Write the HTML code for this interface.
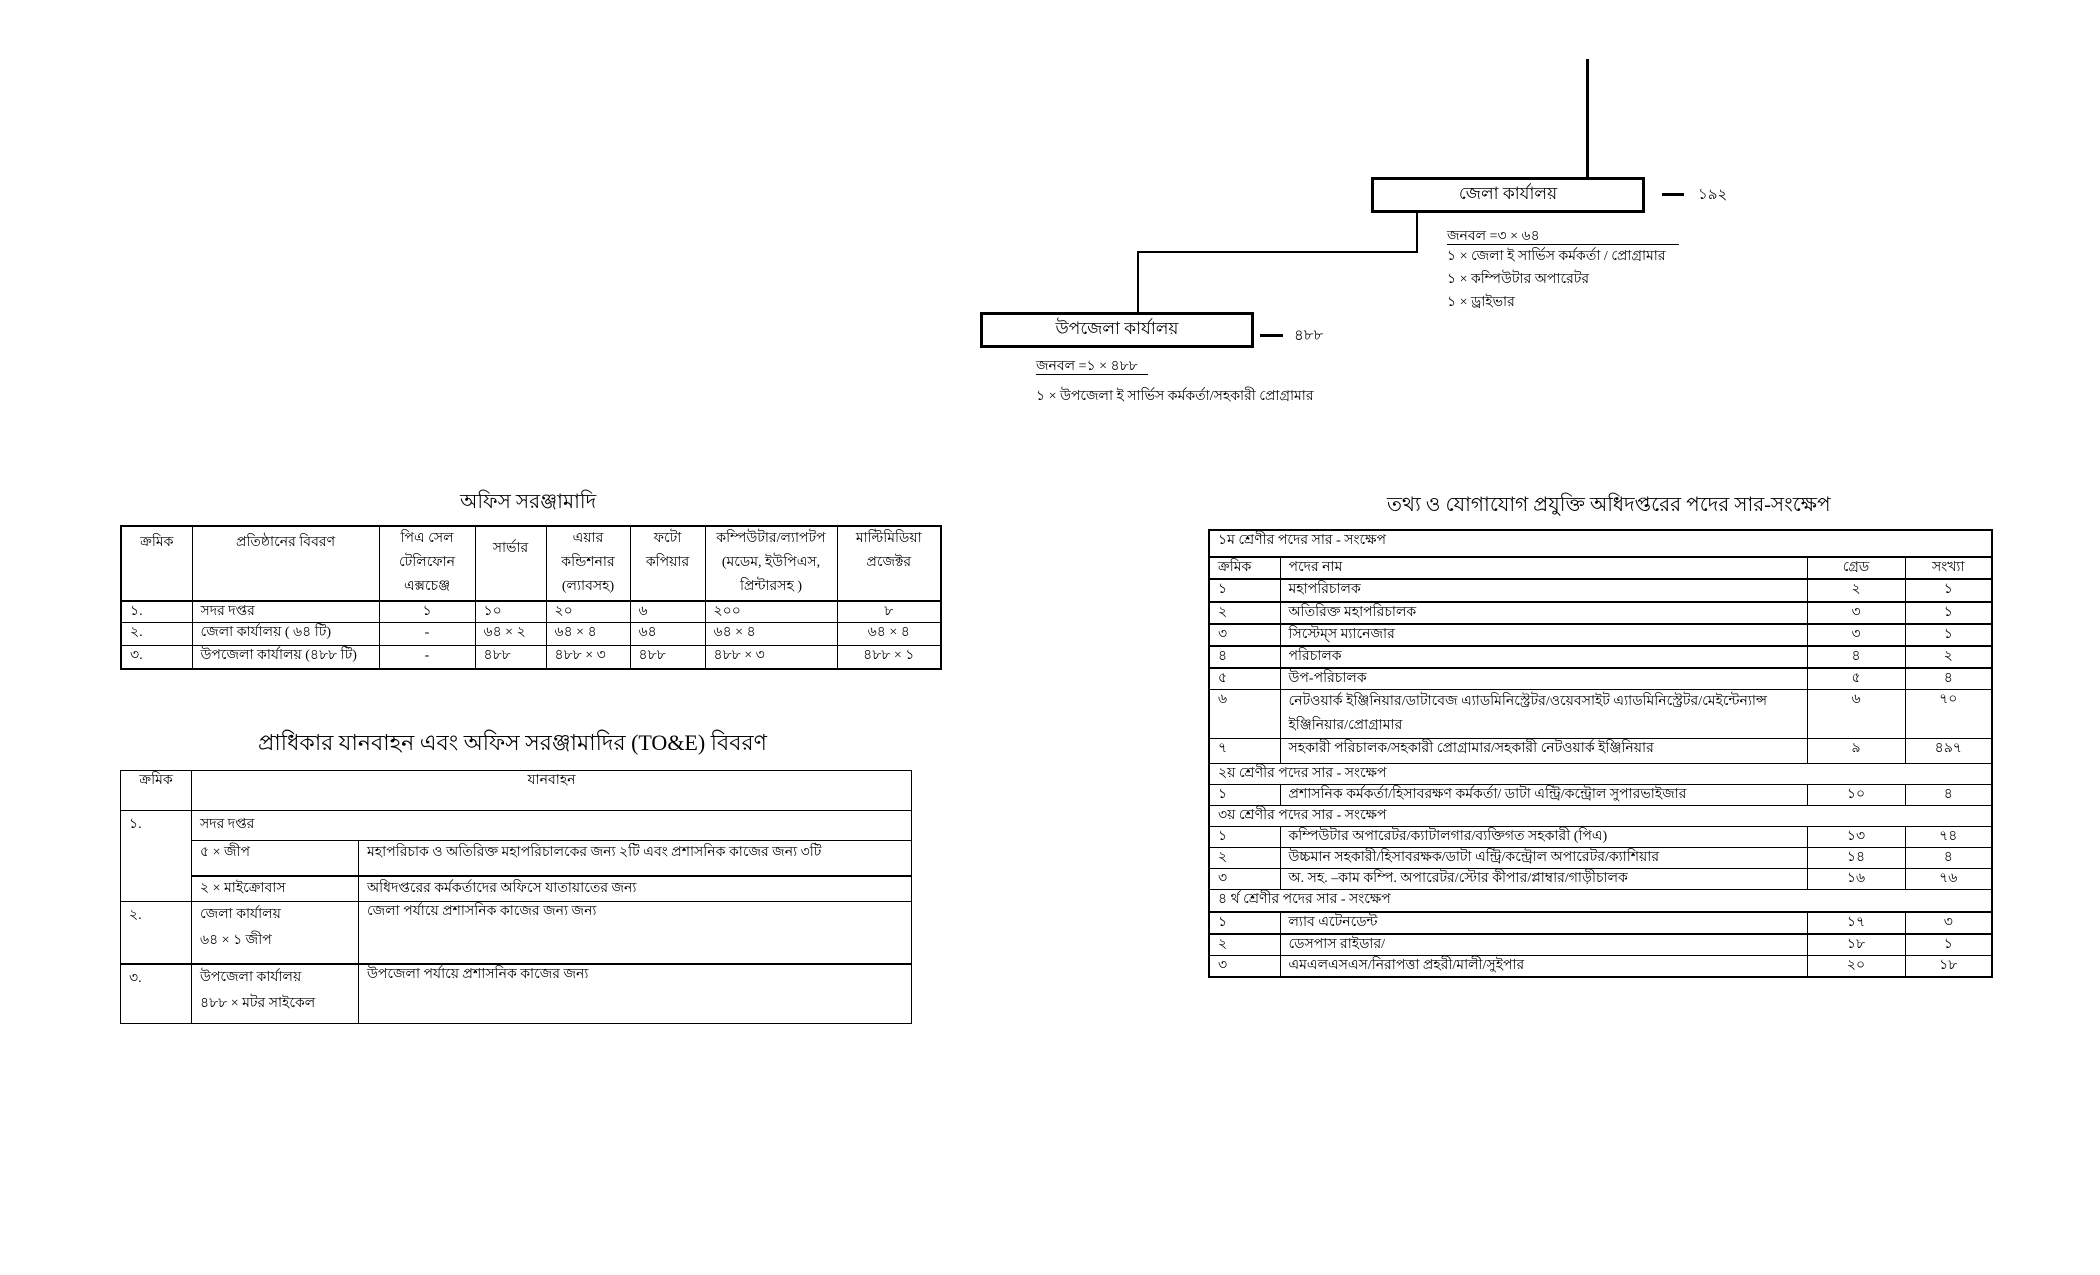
<!DOCTYPE html>
<html><head><meta charset="utf-8">
<style>
body{margin:0;width:2100px;height:1275px;background:#fff;position:relative;overflow:hidden;font-family:"Liberation Serif","Noto Sans CJK SC",serif;color:#000}
.a{position:absolute;white-space:nowrap}
.l{position:absolute;background:#000}
.box{position:absolute;border:3px solid #000;box-sizing:border-box;display:flex;align-items:center;justify-content:center;font-size:17px}
table{position:absolute;border-collapse:collapse;font-size:14px;table-layout:fixed}
td{border:1px solid #000;padding:0 8px;vertical-align:top;line-height:20px;overflow:hidden;white-space:nowrap}
.c{text-align:center}
.t{font-size:20px}
</style></head><body>
<!-- org chart -->
<div class="l" style="left:1586px;top:59px;width:3px;height:118px"></div>
<div class="box" style="left:1371px;top:177px;width:274px;height:36px">জেলা কার্যালয়</div>
<div class="l" style="left:1662px;top:193px;width:22px;height:3px"></div>
<div class="a" style="left:1698px;top:183px;font-size:15px">১৯২</div>
<div class="l" style="left:1416px;top:212px;width:2px;height:41px"></div>
<div class="l" style="left:1137px;top:251px;width:281px;height:2px"></div>
<div class="l" style="left:1137px;top:251px;width:2px;height:61px"></div>
<div class="box" style="left:980px;top:312px;width:274px;height:36px">উপজেলা কার্যালয়</div>
<div class="l" style="left:1260px;top:334px;width:23px;height:3px"></div>
<div class="a" style="left:1294px;top:324px;font-size:15px">৪৮৮</div>
<div class="a" style="left:1447px;top:224px;font-size:14px">জনবল =৩ × ৬৪</div>
<div class="l" style="left:1447px;top:244px;width:232px;height:1px"></div>
<div class="a" style="left:1447px;top:244px;font-size:14px">১ × জেলা ই সার্ভিস কর্মকর্তা / প্রোগ্রামার</div>
<div class="a" style="left:1447px;top:267px;font-size:14px">১ × কম্পিউটার অপারেটর</div>
<div class="a" style="left:1447px;top:290px;font-size:14px">১ × ড্রাইভার</div>
<div class="a" style="left:1036px;top:354px;font-size:14px">জনবল =১ × ৪৮৮</div>
<div class="l" style="left:1036px;top:374px;width:112px;height:1px"></div>
<div class="a" style="left:1036px;top:384px;font-size:14px">১ × উপজেলা ই সার্ভিস কর্মকর্তা/সহকারী প্রোগ্রামার</div>

<!-- table 1 -->
<div class="a t" style="left:460px;top:487px">অফিস সরঞ্জামাদি</div>
<table style="left:120px;top:525px;width:820px;border:2px solid #000">
<colgroup><col style="width:71px"><col style="width:187px"><col style="width:96px"><col style="width:71px"><col style="width:84px"><col style="width:75px"><col style="width:132px"><col style="width:104px"></colgroup>
<tr style="height:75px;border-bottom:2px solid #000"><td class="c" style="padding-top:6px">ক্রমিক</td><td class="c" style="padding-top:6px">প্রতিষ্ঠানের বিবরণ</td><td class="c" style="line-height:24px">পিএ সেল<br>টেলিফোন<br>এক্সচেঞ্জ</td><td class="c" style="padding-top:12px">সার্ভার</td><td class="c" style="line-height:24px">এয়ার<br>কন্ডিশনার<br>(ল্যাবসহ)</td><td class="c" style="line-height:24px">ফটো<br>কপিয়ার</td><td class="c" style="line-height:24px">কম্পিউটার/ল্যাপটপ<br>(মডেম, ইউপিএস,<br>প্রিন্টারসহ )</td><td class="c" style="line-height:24px">মাল্টিমিডিয়া<br>প্রজেক্টর</td></tr>
<tr style="height:21px"><td>১.</td><td>সদর দপ্তর</td><td class="c">১</td><td>১০</td><td>২০</td><td>৬</td><td>২০০</td><td class="c">৮</td></tr>
<tr style="height:23px"><td>২.</td><td>জেলা কার্যালয় ( ৬৪ টি)</td><td class="c">-</td><td>৬৪ × ২</td><td>৬৪ × ৪</td><td>৬৪</td><td>৬৪ × ৪</td><td class="c">৬৪ × ৪</td></tr>
<tr style="height:23px"><td>৩.</td><td>উপজেলা কার্যালয় (৪৮৮ টি)</td><td class="c">-</td><td>৪৮৮</td><td>৪৮৮ × ৩</td><td>৪৮৮</td><td>৪৮৮ × ৩</td><td class="c">৪৮৮ × ১</td></tr>
</table>

<!-- table 2 -->
<div class="a" style="left:258px;top:726px;font-size:22px">প্রাধিকার যানবাহন এবং অফিস সরঞ্জামাদির (TO&amp;E) বিবরণ</div>
<table style="left:120px;top:770px;width:791px;border:1.5px solid #000">
<colgroup><col style="width:71px"><col style="width:167px"><col style="width:553px"></colgroup>
<tr style="height:40px"><td class="c">ক্রমিক</td><td colspan="2" class="c">যানবাহন</td></tr>
<tr style="height:30px"><td rowspan="3" style="padding-top:4px">১.</td><td colspan="2" style="padding-top:4px">সদর দপ্তর</td></tr>
<tr style="height:35px;border-bottom:2px solid #000"><td style="padding-top:2px">৫ × জীপ</td><td style="padding-top:2px">মহাপরিচাক ও অতিরিক্ত মহাপরিচালকের জন্য ২টি এবং প্রশাসনিক কাজের জন্য ৩টি</td></tr>
<tr style="height:26px"><td style="padding-top:2px">২ × মাইক্রোবাস</td><td style="padding-top:2px">অধিদপ্তরের কর্মকর্তাদের অফিসে যাতায়াতের জন্য</td></tr>
<tr style="height:62px;border-bottom:2px solid #000"><td style="padding-top:4px">২.</td><td style="line-height:26px">জেলা কার্যালয়<br>৬৪ × ১ জীপ</td><td>জেলা পর্যায়ে প্রশাসনিক কাজের জন্য জন্য</td></tr>
<tr style="height:60px"><td style="padding-top:4px">৩.</td><td style="line-height:26px">উপজেলা কার্যালয়<br>৪৮৮ × মটর সাইকেল</td><td>উপজেলা পর্যায়ে প্রশাসনিক কাজের জন্য</td></tr>
</table>

<!-- table 3 -->
<div class="a t" style="left:1387px;top:490px">তথ্য ও যোগাযোগ প্রযুক্তি অধিদপ্তরের পদের সার-সংক্ষেপ</div>
<table style="left:1208px;top:529px;width:783px;border:2px solid #000">
<colgroup><col style="width:71px"><col style="width:527px"><col style="width:98px"><col style="width:87px"></colgroup>
<tr style="height:27px;border-bottom:2px solid #000"><td colspan="4">১ম শ্রেণীর পদের সার - সংক্ষেপ</td></tr>
<tr style="height:21px;border-bottom:2px solid #000"><td>ক্রমিক</td><td>পদের নাম</td><td class="c">গ্রেড</td><td class="c">সংখ্যা</td></tr>
<tr style="height:23px;border-bottom:2px solid #000"><td>১</td><td>মহাপরিচালক</td><td class="c">২</td><td class="c">১</td></tr>
<tr style="height:21px;border-bottom:2px solid #000"><td>২</td><td>অতিরিক্ত মহাপরিচালক</td><td class="c">৩</td><td class="c">১</td></tr>
<tr style="height:21px;border-bottom:2px solid #000"><td>৩</td><td>সিস্টেম্‌স ম্যানেজার</td><td class="c">৩</td><td class="c">১</td></tr>
<tr style="height:21px;border-bottom:2px solid #000"><td>৪</td><td>পরিচালক</td><td class="c">৪</td><td class="c">২</td></tr>
<tr style="height:21px"><td>৫</td><td>উপ-পরিচালক</td><td class="c">৫</td><td class="c">৪</td></tr>
<tr style="height:48px"><td>৬</td><td style="line-height:24px">নেটওয়ার্ক ইঞ্জিনিয়ার/ডাটাবেজ এ্যাডমিনিস্ট্রেটর/ওয়েবসাইট এ্যাডমিনিস্ট্রেটর/মেইন্টেন্যান্স<br>ইঞ্জিনিয়ার/প্রোগ্রামার</td><td class="c">৬</td><td class="c">৭০</td></tr>
<tr style="height:25px"><td>৭</td><td>সহকারী পরিচালক/সহকারী প্রোগ্রামার/সহকারী নেটওয়ার্ক ইঞ্জিনিয়ার</td><td class="c">৯</td><td class="c">৪৯৭</td></tr>
<tr style="height:21px"><td colspan="4">২য় শ্রেণীর পদের সার - সংক্ষেপ</td></tr>
<tr style="height:21px"><td>১</td><td>প্রশাসনিক কর্মকর্তা/হিসাবরক্ষণ কর্মকর্তা/ ডাটা এন্ট্রি/কন্ট্রোল সুপারভাইজার</td><td class="c">১০</td><td class="c">৪</td></tr>
<tr style="height:21px"><td colspan="4">৩য় শ্রেণীর পদের সার - সংক্ষেপ</td></tr>
<tr style="height:21px"><td>১</td><td>কম্পিউটার অপারেটর/ক্যাটালগার/ব্যক্তিগত সহকারী (পিএ)</td><td class="c">১৩</td><td class="c">৭৪</td></tr>
<tr style="height:21px"><td>২</td><td>উচ্চমান সহকারী/হিসাবরক্ষক/ডাটা এন্ট্রি/কন্ট্রোল অপারেটর/ক্যাশিয়ার</td><td class="c">১৪</td><td class="c">৪</td></tr>
<tr style="height:21px"><td>৩</td><td>অ. সহ. –কাম কম্পি. অপারেটর/স্টোর কীপার/প্লাম্বার/গাড়ীচালক</td><td class="c">১৬</td><td class="c">৭৬</td></tr>
<tr style="height:22px;border-bottom:2px solid #000"><td colspan="4">৪ র্থ শ্রেণীর পদের সার - সংক্ষেপ</td></tr>
<tr style="height:21px;border-bottom:2px solid #000"><td>১</td><td>ল্যাব এটেনডেন্ট</td><td class="c">১৭</td><td class="c">৩</td></tr>
<tr style="height:21px"><td>২</td><td>ডেসপাস রাইডার/</td><td class="c">১৮</td><td class="c">১</td></tr>
<tr style="height:21px"><td>৩</td><td>এমএলএসএস/নিরাপত্তা প্রহরী/মালী/সুইপার</td><td class="c">২০</td><td class="c">১৮</td></tr>
</table>
</body></html>
